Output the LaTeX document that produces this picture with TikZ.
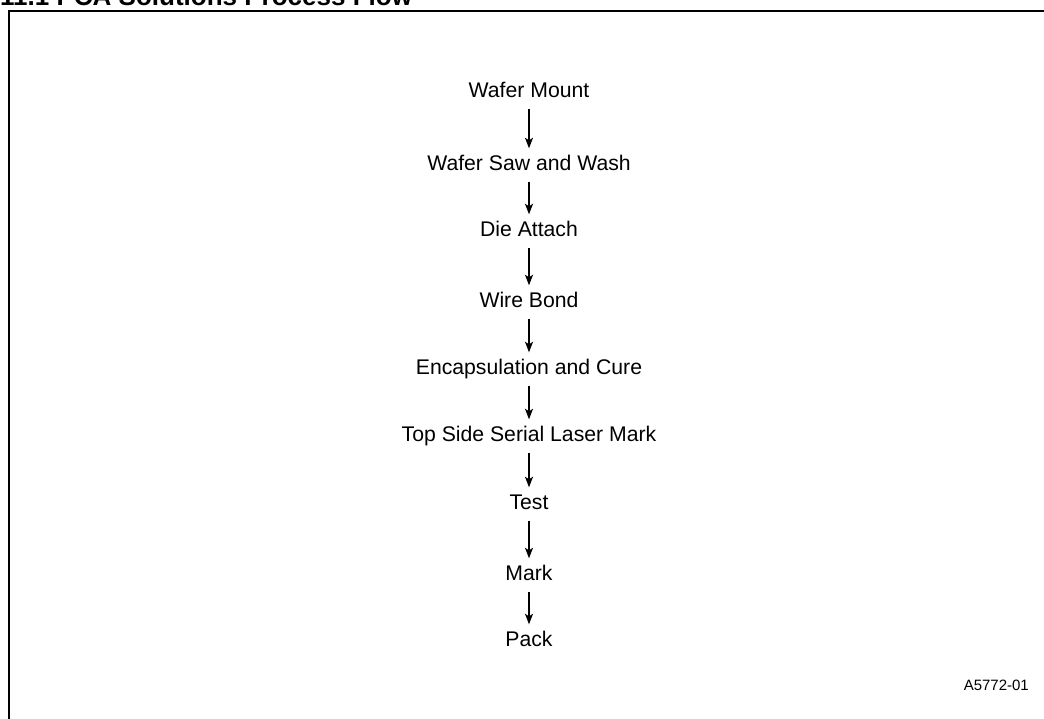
\documentclass[tikz,border=0pt]{standalone}
\usepackage{fontspec}
\setmainfont{Liberation Sans}
\usetikzlibrary{arrows.meta}
\begin{document}
\begin{tikzpicture}[x=1pt,y=-1pt,
  stepnode/.style={anchor=base,font=\fontsize{21.2}{25}\selectfont,text height=15pt,text depth=5pt,inner xsep=0pt,inner ysep=6.5pt},
  flow/.style={-{Stealth[length=10.5pt,width=8pt,inset=2.5pt]},line width=1.3pt}]
\useasboundingbox (0,0) rectangle (1044,718);
\clip (0,0) rectangle (1044,718);
\fill[white] (0,0) rectangle (1044,718);
\node[anchor=base west,inner sep=0pt,font=\bfseries\fontsize{26}{30}\selectfont] (title) at (0,5) {11.1 PCA Solutions Process Flow};
\draw[line width=2.4pt] (9,720) -- (9,11) -- (1046,11);
\node[stepnode] (s1) at (529,97) {Wafer Mount};
\node[stepnode] (s2) at (529,170) {Wafer Saw and Wash};
\node[stepnode] (s3) at (529,236) {Die Attach};
\node[stepnode] (s4) at (529,307) {Wire Bond};
\node[stepnode] (s5) at (529,374) {Encapsulation and Cure};
\node[stepnode] (s6) at (529,441) {Top Side Serial Laser Mark};
\node[stepnode] (s7) at (529,509) {Test};
\node[stepnode] (s8) at (529,580) {Mark};
\node[stepnode] (s9) at (529,646) {Pack};
\foreach \a/\b in {s1/s2,s2/s3,s3/s4,s4/s5,s5/s6,s6/s7,s7/s8,s8/s9}
  \draw[flow] (\a.south) -- (\b.north);
\node[anchor=base east,inner sep=0pt,font=\fontsize{15}{18}\selectfont] (id) at (1029,690) {A5772-01};
\end{tikzpicture}
\end{document}
